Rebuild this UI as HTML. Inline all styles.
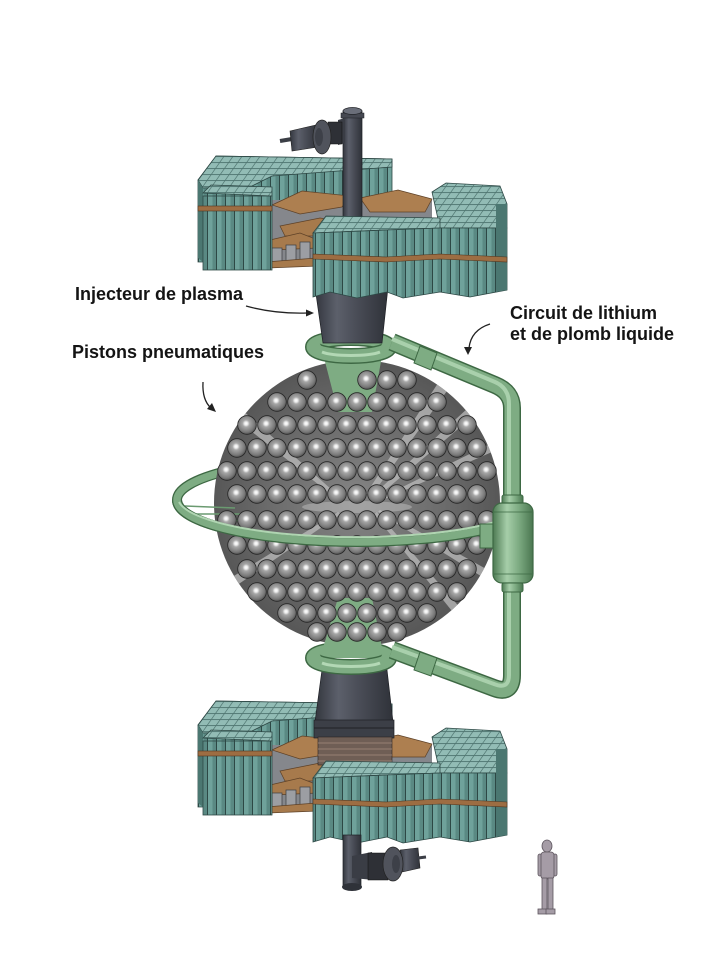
<!DOCTYPE html>
<html><head><meta charset="utf-8"><style>
html,body{margin:0;padding:0;background:#fff;}
svg{display:block}
.lbl{font-family:"Liberation Sans",sans-serif;font-weight:bold;font-size:18px;fill:#141414}
</style></head><body>
<svg width="723" height="974" viewBox="0 0 723 974" xmlns="http://www.w3.org/2000/svg">
<defs>
<linearGradient id="dk" x1="0" y1="0" x2="1" y2="0">
 <stop offset="0" stop-color="#33363e"/><stop offset=".3" stop-color="#5c606b"/><stop offset=".55" stop-color="#4b4e58"/><stop offset="1" stop-color="#2f3239"/>
</linearGradient>
<linearGradient id="gV" x1="0" y1="0" x2="1" y2="0">
 <stop offset="0" stop-color="#4d7a53"/><stop offset=".35" stop-color="#a6cea9"/><stop offset=".65" stop-color="#7caa81"/><stop offset="1" stop-color="#4a7650"/>
</linearGradient>
<radialGradient id="bl" cx=".45" cy=".42" r=".6">
 <stop offset="0" stop-color="#ffffff"/><stop offset=".14" stop-color="#eeeeee"/><stop offset=".32" stop-color="#a6a6a6"/><stop offset=".75" stop-color="#7a7a7a"/><stop offset="1" stop-color="#505050"/>
</radialGradient>
<radialGradient id="sph" cx=".5" cy=".5" r=".5">
 <stop offset="0" stop-color="#858585"/><stop offset=".6" stop-color="#6c6c6c"/><stop offset="1" stop-color="#575757"/>
</radialGradient>
<pattern id="st" width="9" height="40" patternUnits="userSpaceOnUse">
 <rect width="9" height="40" fill="#6fa29b"/><rect x="5.5" width="3.5" height="40" fill="#5a8983"/><rect width="1" height="40" fill="#2d4845"/>
</pattern>
<pattern id="gr" width="9" height="6" patternUnits="userSpaceOnUse" patternTransform="skewX(-35)">
 <rect width="9" height="6" fill="#92bcb5"/><path d="M0,0.4H9M0.4,0V6" stroke="#4f7570" stroke-width=".9"/>
</pattern>
<circle id="b" r="9.3" fill="url(#bl)" stroke="#262626" stroke-width=".8"/>
<clipPath id="rc"><rect x="0" y="0" width="496" height="974"/></clipPath>
<clipPath id="sc"><circle cx="357" cy="503" r="143"/></clipPath>

<g id="mB">
 <polygon points="198,180 216,156 392,159 392,206 272,206 272,262 198,262" fill="url(#st)" stroke="#2d4845" stroke-width=".8"/>
 <polygon points="198,180 216,156 392,159 392,167 272,176 252,186 203,188" fill="url(#gr)" stroke="#2d4845" stroke-width=".8"/>
 <polygon points="198,180 203,188 203,262 198,258" fill="#4b7771"/>
 <polygon points="272,200 432,200 432,238 318,262 272,262" fill="#85878c"/>
 <polygon points="272,205 302,191 350,196 342,207 300,214" fill="#ad7f50" stroke="#5e4127" stroke-width=".7"/>
 <polygon points="360,198 398,190 432,199 425,212 370,212" fill="#ad7f50" stroke="#5e4127" stroke-width=".7"/>
 <polygon points="280,226 320,218 358,224 330,236 285,236" fill="#a77a4c" stroke="#5e4127" stroke-width=".7"/>
 <polygon points="270,240 300,233 318,240 318,248 272,250" fill="#a77a4c" stroke="#5e4127" stroke-width=".7"/>
 <g fill="#9c9ea3" stroke="#3b3d41" stroke-width=".7">
  <rect x="272" y="248" width="10" height="16"/><rect x="286" y="245" width="10" height="19"/><rect x="300" y="242" width="10" height="22"/>
 </g>
 <polygon points="266,262 316,258 318,266 268,268" fill="#a77a4c" stroke="#5e4127" stroke-width=".7"/>
 <polygon points="203,193 211,185 272,187 272,196" fill="url(#gr)" stroke="#2d4845" stroke-width=".8"/>
 <rect x="203" y="196" width="69" height="74" fill="url(#st)" stroke="#2d4845" stroke-width=".8"/>
 <rect x="198" y="206" width="74" height="5" fill="#9d6d42" stroke="#4f3620" stroke-width=".6"/>
</g>

<g id="mF">
 <polygon points="432,192 446,183 500,186 507,204 507,228 440,228" fill="url(#gr)" stroke="#2d4845" stroke-width=".8"/>
 <polygon points="313,233 326,216 440,218 440,228 386,230" fill="url(#gr)" stroke="#2d4845" stroke-width=".8"/>
 <polygon points="313,233 386,230 440,228 507,228 507,290 470,297 440,292 403,298 387,292 357,298 330,292 313,297" fill="url(#st)" stroke="#2d4845" stroke-width=".8"/>
 <polygon points="496,204 507,204 507,290 496,292" fill="#4b7771"/>
 <polygon points="313,254 386,257 440,254 507,257 507,262 440,259 386,262 313,259" fill="#9d6d42" stroke="#4f3620" stroke-width=".6"/>
</g>
</defs>

<!-- ============ TOP ASSEMBLY ============ -->
<use href="#mB"/>
<rect x="343" y="111" width="19" height="122" fill="url(#dk)" stroke="#1f2126" stroke-width=".7"/>
<rect x="341" y="113" width="23" height="5" fill="#454851" stroke="#1f2126" stroke-width=".5"/>
<ellipse cx="352.5" cy="111" rx="9.5" ry="3.5" fill="#6a6e79" stroke="#1f2126" stroke-width=".7"/>
<line x1="280" y1="141" x2="292" y2="139" stroke="#3b3e46" stroke-width="4"/>
<polygon points="290,131 316,125 318,147 292,151" fill="url(#dk)" stroke="#222" stroke-width=".6"/>
<polygon points="338,120 345,118 345,143 338,145" fill="#3a3d45"/>
<rect x="328" y="122" width="14" height="22" fill="#2e3036" stroke="#111" stroke-width=".5"/>
<ellipse cx="322" cy="137" rx="9" ry="17" fill="#50535c" stroke="#222" stroke-width=".7"/>
<ellipse cx="319" cy="137" rx="4" ry="9" fill="#3d4048"/>

<path d="M313,347 A38,9 0 0,1 389,347" fill="none" stroke="#3d6843" stroke-width="16"/>
<path d="M313,347 A38,9 0 0,1 389,347" fill="none" stroke="#7eac83" stroke-width="13"/>
<polygon points="315,287 388,287 382,343 323,343" fill="url(#dk)" stroke="#1f2126" stroke-width=".7"/>
<use href="#mF"/>

<!-- equator ring back -->
<g clip-path="url(#rc)" fill="none">
 <ellipse cx="357" cy="500" rx="180" ry="42" stroke="#3d6843" stroke-width="10"/>
 <ellipse cx="357" cy="500" rx="180" ry="42" stroke="#7eac83" stroke-width="7.5"/>
</g>
<path d="M313,658 A38,9 0 0,1 389,658" fill="none" stroke="#3d6843" stroke-width="16"/>
<path d="M313,658 A38,9 0 0,1 389,658" fill="none" stroke="#7eac83" stroke-width="13"/>

<!-- ============ SPHERE ============ -->
<circle cx="357" cy="503" r="143" fill="url(#sph)"/>
<g clip-path="url(#sc)" fill="#bdbdbd" opacity=".75">
 <polygon points="440,380 452,384 372,495 366,494"/>
 <polygon points="468,408 476,414 376,498 372,496"/>
 <polygon points="488,445 492,452 378,502 376,500"/>
 <polygon points="488,570 484,578 378,512 380,510"/>
 <polygon points="462,610 456,616 374,514 377,512"/>
 <polygon points="240,408 232,416 338,500 341,498"/>
 <polygon points="230,590 224,582 338,512 341,514"/>
</g>
<polygon points="322,350 383,350 372,412 338,412" fill="#7eac83"/>
<polygon points="338,598 372,598 384,658 320,658" fill="#7eac83"/>
<ellipse cx="357" cy="507" rx="55" ry="6" fill="#c8c8c8" opacity=".45"/>
<g stroke="#6a9a70" stroke-width="1.5">
 <line x1="185" y1="506" x2="235" y2="508"/><line x1="192" y1="514" x2="240" y2="514"/><line x1="205" y1="522" x2="248" y2="520"/>
</g>
<g>
<use href="#b" x="307" y="380"/><use href="#b" x="367" y="380"/><use href="#b" x="387" y="380"/><use href="#b" x="407" y="380"/>
<use href="#b" x="277" y="402"/><use href="#b" x="297" y="402"/><use href="#b" x="317" y="402"/><use href="#b" x="337" y="402"/><use href="#b" x="357" y="402"/><use href="#b" x="377" y="402"/><use href="#b" x="397" y="402"/><use href="#b" x="417" y="402"/><use href="#b" x="437" y="402"/>
<use href="#b" x="247" y="425"/><use href="#b" x="267" y="425"/><use href="#b" x="287" y="425"/><use href="#b" x="307" y="425"/><use href="#b" x="327" y="425"/><use href="#b" x="347" y="425"/><use href="#b" x="367" y="425"/><use href="#b" x="387" y="425"/><use href="#b" x="407" y="425"/><use href="#b" x="427" y="425"/><use href="#b" x="447" y="425"/><use href="#b" x="467" y="425"/>
<use href="#b" x="237" y="448"/><use href="#b" x="257" y="448"/><use href="#b" x="277" y="448"/><use href="#b" x="297" y="448"/><use href="#b" x="317" y="448"/><use href="#b" x="337" y="448"/><use href="#b" x="357" y="448"/><use href="#b" x="377" y="448"/><use href="#b" x="397" y="448"/><use href="#b" x="417" y="448"/><use href="#b" x="437" y="448"/><use href="#b" x="457" y="448"/><use href="#b" x="477" y="448"/>
<use href="#b" x="227" y="471"/><use href="#b" x="247" y="471"/><use href="#b" x="267" y="471"/><use href="#b" x="287" y="471"/><use href="#b" x="307" y="471"/><use href="#b" x="327" y="471"/><use href="#b" x="347" y="471"/><use href="#b" x="367" y="471"/><use href="#b" x="387" y="471"/><use href="#b" x="407" y="471"/><use href="#b" x="427" y="471"/><use href="#b" x="447" y="471"/><use href="#b" x="467" y="471"/><use href="#b" x="487" y="471"/>
<use href="#b" x="237" y="494"/><use href="#b" x="257" y="494"/><use href="#b" x="277" y="494"/><use href="#b" x="297" y="494"/><use href="#b" x="317" y="494"/><use href="#b" x="337" y="494"/><use href="#b" x="357" y="494"/><use href="#b" x="377" y="494"/><use href="#b" x="397" y="494"/><use href="#b" x="417" y="494"/><use href="#b" x="437" y="494"/><use href="#b" x="457" y="494"/><use href="#b" x="477" y="494"/>
<use href="#b" x="227" y="520"/><use href="#b" x="247" y="520"/><use href="#b" x="267" y="520"/><use href="#b" x="287" y="520"/><use href="#b" x="307" y="520"/><use href="#b" x="327" y="520"/><use href="#b" x="347" y="520"/><use href="#b" x="367" y="520"/><use href="#b" x="387" y="520"/><use href="#b" x="407" y="520"/><use href="#b" x="427" y="520"/><use href="#b" x="447" y="520"/><use href="#b" x="467" y="520"/><use href="#b" x="487" y="520"/>
<use href="#b" x="237" y="545"/><use href="#b" x="257" y="545"/><use href="#b" x="277" y="545"/><use href="#b" x="297" y="545"/><use href="#b" x="317" y="545"/><use href="#b" x="337" y="545"/><use href="#b" x="357" y="545"/><use href="#b" x="377" y="545"/><use href="#b" x="397" y="545"/><use href="#b" x="417" y="545"/><use href="#b" x="437" y="545"/><use href="#b" x="457" y="545"/><use href="#b" x="477" y="545"/>
<use href="#b" x="247" y="569"/><use href="#b" x="267" y="569"/><use href="#b" x="287" y="569"/><use href="#b" x="307" y="569"/><use href="#b" x="327" y="569"/><use href="#b" x="347" y="569"/><use href="#b" x="367" y="569"/><use href="#b" x="387" y="569"/><use href="#b" x="407" y="569"/><use href="#b" x="427" y="569"/><use href="#b" x="447" y="569"/><use href="#b" x="467" y="569"/>
<use href="#b" x="257" y="592"/><use href="#b" x="277" y="592"/><use href="#b" x="297" y="592"/><use href="#b" x="317" y="592"/><use href="#b" x="337" y="592"/><use href="#b" x="357" y="592"/><use href="#b" x="377" y="592"/><use href="#b" x="397" y="592"/><use href="#b" x="417" y="592"/><use href="#b" x="437" y="592"/><use href="#b" x="457" y="592"/>
<use href="#b" x="287" y="613"/><use href="#b" x="307" y="613"/><use href="#b" x="327" y="613"/><use href="#b" x="347" y="613"/><use href="#b" x="367" y="613"/><use href="#b" x="387" y="613"/><use href="#b" x="407" y="613"/><use href="#b" x="427" y="613"/>
<use href="#b" x="317" y="632"/><use href="#b" x="337" y="632"/><use href="#b" x="357" y="632"/><use href="#b" x="377" y="632"/><use href="#b" x="397" y="632"/>
</g>

<path d="M313,347 A38,9 0 0,0 389,347" fill="none" stroke="#3d6843" stroke-width="16"/>
<path d="M313,347 A38,9 0 0,0 389,347" fill="none" stroke="#7eac83" stroke-width="13"/>
<path d="M322,352 A32,6 0 0,0 380,352" fill="none" stroke="#b3d8b5" stroke-width="3"/>

<!-- ============ BOTTOM ASSEMBLY ============ -->
<use href="#mB" transform="translate(0,545)"/>
<polygon points="322,670 387,670 393,722 315,722" fill="url(#dk)" stroke="#1f2126" stroke-width=".7"/>
<rect x="314" y="720" width="80" height="18" fill="#3c3f47" stroke="#1f2126" stroke-width=".7"/>
<line x1="314" y1="728" x2="394" y2="728" stroke="#1f2126" stroke-width="1"/>
<rect x="318" y="737" width="74" height="28" fill="#6f5e55" stroke="#2a2220" stroke-width=".6"/>
<g stroke="#a48d7f" stroke-width=".8"><line x1="318" y1="743" x2="392" y2="743"/><line x1="318" y1="749" x2="392" y2="749"/><line x1="318" y1="755" x2="392" y2="755"/><line x1="318" y1="761" x2="392" y2="761"/></g>
<use href="#mF" transform="translate(0,545)"/>

<path d="M313,658 A38,9 0 0,0 389,658" fill="none" stroke="#3d6843" stroke-width="16"/>
<path d="M313,658 A38,9 0 0,0 389,658" fill="none" stroke="#7eac83" stroke-width="13"/>
<path d="M322,663 A32,6 0 0,0 380,663" fill="none" stroke="#b3d8b5" stroke-width="3"/>

<!-- ============ GREEN CIRCUIT ============ -->
<g fill="none" stroke-linejoin="round">
 <path d="M392,342 L495,385 Q512,392 512,408 L512,500" stroke="#3d6843" stroke-width="18"/>
 <path d="M392,342 L495,385 Q512,392 512,408 L512,500" stroke="#7eac83" stroke-width="15"/>
 <path d="M392,339 L495,382 Q509,388 509,404 L509,500" stroke="#a9d0ac" stroke-width="4"/>
 <path d="M512,585 L512,675 Q512,695 494,688 L392,650" stroke="#3d6843" stroke-width="18"/>
 <path d="M512,585 L512,675 Q512,695 494,688 L392,650" stroke="#7eac83" stroke-width="15"/>
 <path d="M509,585 L509,675 Q509,690 494,684 L392,647" stroke="#a9d0ac" stroke-width="4"/>
</g>
<polygon points="420,346 437,353 431,370 414,363" fill="#7eac83" stroke="#3d6843" stroke-width="1"/>
<polygon points="420,652 437,658 431,676 414,670" fill="#7eac83" stroke="#3d6843" stroke-width="1"/>

<g clip-path="url(#rc)" fill="none">
 <path d="M177,500 A180,42 0 0,0 537,500" stroke="#3d6843" stroke-width="10"/>
 <path d="M177,500 A180,42 0 0,0 537,500" stroke="#7eac83" stroke-width="7.5"/>
 <path d="M179,502 A178,40 0 0,0 495,522" stroke="#b0d5b2" stroke-width="2"/>
</g>
<rect x="480" y="524" width="16" height="24" fill="#7eac83" stroke="#3d6843" stroke-width="1"/>

<rect x="502" y="495" width="21" height="10" rx="2" fill="url(#gV)" stroke="#3d6843" stroke-width="1"/>
<rect x="493" y="503" width="40" height="80" rx="9" fill="url(#gV)" stroke="#3d6843" stroke-width="1.2"/>
<line x1="494" y1="512" x2="532" y2="512" stroke="#3d6843" stroke-width=".8"/>
<line x1="494" y1="574" x2="532" y2="574" stroke="#3d6843" stroke-width=".8"/>
<rect x="502" y="583" width="21" height="9" rx="2" fill="url(#gV)" stroke="#3d6843" stroke-width="1"/>

<!-- bottom pipe & motor -->
<rect x="343" y="835" width="18" height="52" fill="url(#dk)" stroke="#1f2126" stroke-width=".7"/>
<ellipse cx="352" cy="887" rx="10" ry="4" fill="#2f3239"/>
<polygon points="352,856 372,852 374,880 352,878" fill="#3a3d45"/>
<rect x="368" y="853" width="20" height="27" fill="#2e3036" stroke="#111" stroke-width=".5"/>
<polygon points="400,850 418,848 420,868 402,872" fill="url(#dk)" stroke="#222" stroke-width=".6"/>
<ellipse cx="393" cy="864" rx="10" ry="17" fill="#50535c" stroke="#222" stroke-width=".7"/>
<ellipse cx="396" cy="864" rx="4" ry="9" fill="#3d4048"/>
<line x1="418" y1="858" x2="426" y2="857" stroke="#3b3e46" stroke-width="3"/>

<!-- human figure -->
<g fill="#a59ca6" stroke="#5d555e" stroke-width=".8">
 <ellipse cx="547" cy="846" rx="5" ry="6"/>
 <rect x="538" y="854" width="4" height="22" rx="2"/>
 <rect x="553" y="854" width="4" height="22" rx="2"/>
 <rect x="541" y="852" width="13" height="27" rx="3"/>
 <rect x="542" y="878" width="5" height="32"/>
 <rect x="548" y="878" width="5" height="32"/>
 <rect x="538" y="909" width="9" height="5"/>
 <rect x="546" y="909" width="9" height="5"/>
</g>

<!-- labels & arrows -->
<text class="lbl" x="75" y="300">Injecteur de plasma</text>
<text class="lbl" x="72" y="358">Pistons pneumatiques</text>
<text class="lbl" x="510" y="319">Circuit de lithium</text>
<text class="lbl" x="510" y="340">et de plomb liquide</text>
<g fill="none" stroke="#222" stroke-width="1.3">
 <path d="M246,306 Q275,314 307,313"/>
 <path d="M203,382 Q202,400 211,408"/>
 <path d="M490,324 Q471,330 469,348"/>
</g>
<g fill="#222">
 <polygon points="314,313 306,309.5 306,316.5"/>
 <polygon points="216,412 207,409 212,403"/>
 <polygon points="468,355 464,347 472,347"/>
</g>
</svg>
</body></html>
